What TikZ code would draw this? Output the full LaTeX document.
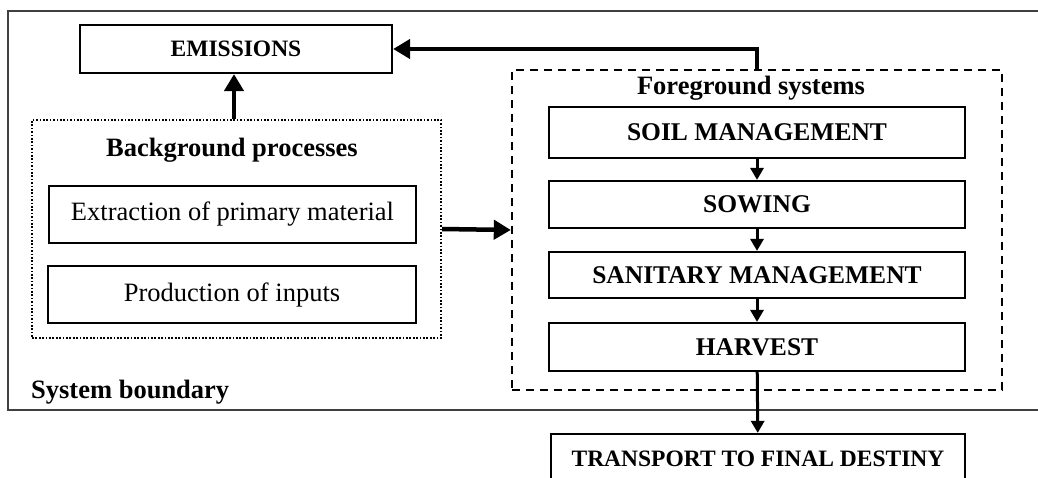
\documentclass[tikz,border=0pt]{standalone}
\usepackage{fontspec}
\setmainfont{Liberation Serif}
\usetikzlibrary{arrows.meta}
\tikzset{
  box/.style={draw, line width=2.2pt, inner sep=0pt, align=center},
  capsbig/.style={font=\fontsize{25.5}{28}\selectfont\bfseries},
  capssmall/.style={font=\fontsize{23.5}{26}\selectfont\bfseries},
  plaintext/.style={font=\fontsize{26.5}{30}\selectfont, text height=18pt, text depth=5pt},
  heading/.style={font=\fontsize{26.5}{30}\selectfont\bfseries, inner sep=0pt},
  bigarrow/.style={line width=4.5pt, -{Triangle[width=19pt,length=17pt]}},
  smallarrow/.style={line width=3pt, -{Triangle[width=13pt,length=12pt]}},
}
\begin{document}
\begin{tikzpicture}[x=1pt,y=-1pt]
\useasboundingbox (0,0) rectangle (1038,478);
\clip (0,0) rectangle (1038,478);
% outer system boundary
\draw[line width=1.4pt, color=black!75] (8,11) rectangle (1045,410);
\node[heading, anchor=base west] (sysb) at (31,398) {System boundary};

% emissions
\node[box, capssmall, minimum width=312pt, minimum height=48pt] (emis) at (236,49) {EMISSIONS};

% background processes
\node[draw, dash pattern=on 1.7pt off 1.7pt, line width=2pt, minimum width=409pt, minimum height=218pt, inner sep=0pt] (bg) at (236.5,229) {};
\node[heading, anchor=base] (bgt) at (232,157) {Background processes};
\node[box, plaintext, minimum width=367pt, minimum height=57pt] (extr) at (232.5,214.5) {Extraction of primary material};
\node[box, plaintext, minimum width=368pt, minimum height=57pt] (prod) at (232,294.5) {Production of inputs};

% foreground systems
\node[draw, dash pattern=on 8pt off 6pt, line width=2.4pt, minimum width=490pt, minimum height=320pt, inner sep=0pt] (fg) at (757,230) {};
\node[heading, anchor=base] (fgt) at (751,95) {Foreground systems};
\node[box, capsbig, minimum width=416pt, minimum height=51pt] (soil) at (757,132.5) {SOIL MANAGEMENT};
\node[box, capsbig, minimum width=416pt, minimum height=47pt] (sow) at (757,204.5) {SOWING};
\node[box, capsbig, minimum width=416pt, minimum height=46pt] (san) at (757,275) {SANITARY MANAGEMENT};
\node[box, capsbig, minimum width=416pt, minimum height=48pt] (harv) at (757,347) {HARVEST};
\node[box, capssmall, minimum width=414pt, minimum height=50pt] (trans) at (758,459) {TRANSPORT TO FINAL DESTINY};

% connectors
\draw[bigarrow] (bg.north -| 234,0) -- (emis.south -| 234,0);
\draw[bigarrow] (bg.east) -- (fg.west);
\draw[bigarrow] (fg.north) |- (emis.east);
\draw[smallarrow] (soil) -- (sow);
\draw[smallarrow] (sow) -- (san);
\draw[smallarrow] (san) -- (harv);
\draw[smallarrow] (harv) -- (trans);
\end{tikzpicture}
\end{document}
